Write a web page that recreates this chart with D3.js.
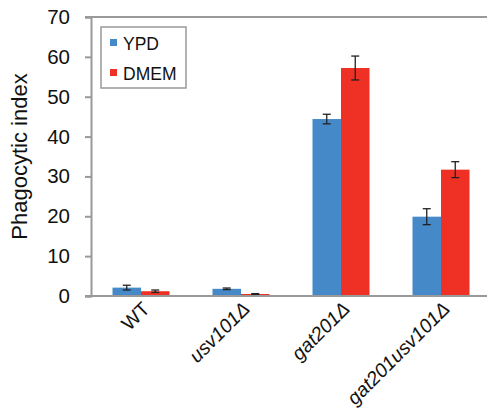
<!DOCTYPE html>
<html>
<head>
<meta charset="utf-8">
<script src="https://cdn.jsdelivr.net/npm/d3@7"></script>
<style>
  body { margin: 0; background: #fff; }
  text { font-family: "Liberation Sans", Arial, sans-serif; fill: #111; }
</style>
</head>
<body>
<div id="chart"></div>
<script>
const width = 487, height = 416;
const margin = { top: 17, right: -4, bottom: 120, left: 91 };

const strains = ["WT", "usv101Δ", "gat201Δ", "gat201usv101Δ"];
const italicStrain = [false, true, true, true];
const media = ["YPD", "DMEM"];
const ypdValues = [2.1, 1.8, 44.4, 19.9];
const ypdErrors = [0.6, 0.2, 1.2, 2.0];
const dmemValues = [1.2, 0.5, 57.2, 31.7];
const dmemErrors = [0.3, 0.1, 3.0, 2.0];
const yTicks = [0, 10, 20, 30, 40, 50, 60, 70];
const colors = ["#4689C9", "#EE3124"];

const svg = d3.select("#chart")
  .append("svg")
  .attr("width", width)
  .attr("height", height);

const x0 = d3.scaleBand()
  .domain(strains)
  .range([margin.left, width - margin.right])
  .paddingInner(0.43)
  .paddingOuter(0.215);

const x1 = d3.scaleBand()
  .domain(media)
  .range([0, x0.bandwidth()]);

const y = d3.scaleLinear()
  .domain([0, 70])
  .range([height - margin.bottom, margin.top]);

const color = d3.scaleOrdinal().domain(media).range(colors);

const rows = strains.map((s, i) => ({
  strain: s,
  bars: [
    { medium: "YPD", value: ypdValues[i], err: ypdErrors[i] },
    { medium: "DMEM", value: dmemValues[i], err: dmemErrors[i] }
  ]
}));

// y axis
const yAxis = svg.append("g")
  .attr("transform", `translate(${margin.left},0)`)
  .call(d3.axisLeft(y).tickValues(yTicks).tickSize(6).tickPadding(15));
yAxis.select(".domain").attr("stroke", "#999").attr("stroke-width", 2);
yAxis.selectAll(".tick line").attr("stroke", "#999").attr("stroke-width", 2);
yAxis.selectAll(".tick text")
  .style("font-size", "20.5px")
  .attr("fill", "#111");

// top border
svg.append("line")
  .attr("x1", margin.left - 6)
  .attr("x2", width)
  .attr("y1", y(70))
  .attr("y2", y(70))
  .attr("stroke", "#999")
  .attr("stroke-width", 2);

// bars
const groups = svg.selectAll(".group")
  .data(rows)
  .join("g")
  .attr("class", "group")
  .attr("transform", d => `translate(${x0(d.strain)},0)`);

groups.selectAll("rect")
  .data(d => d.bars)
  .join("rect")
  .attr("x", d => x1(d.medium))
  .attr("y", d => y(d.value))
  .attr("width", x1.bandwidth())
  .attr("height", d => y(0) - y(d.value))
  .attr("fill", d => color(d.medium));

// error bars
const errs = groups.selectAll(".err")
  .data(d => d.bars)
  .join("g")
  .attr("class", "err")
  .attr("transform", d => `translate(${x1(d.medium) + x1.bandwidth() / 2},0)`);

errs.append("line")
  .attr("y1", d => y(d.value + d.err))
  .attr("y2", d => y(Math.max(d.value - d.err, 0)))
  .attr("stroke", "#222")
  .attr("stroke-width", 1.3);
errs.selectAll(".cap")
  .data(d => [d.value + d.err, Math.max(d.value - d.err, 0)])
  .join("line")
  .attr("class", "cap")
  .attr("x1", -4)
  .attr("x2", 4)
  .attr("y1", d => y(d))
  .attr("y2", d => y(d))
  .attr("stroke", "#222")
  .attr("stroke-width", 1.3);

// x axis
svg.append("line")
  .attr("x1", margin.left - 6)
  .attr("x2", width)
  .attr("y1", y(0))
  .attr("y2", y(0))
  .attr("stroke", "#999")
  .attr("stroke-width", 2);

svg.selectAll(".xlabel")
  .data(strains)
  .join("text")
  .attr("class", "xlabel")
  .attr("text-anchor", "end")
  .attr("transform", d => `translate(${x0(d) + x0.bandwidth() / 2 + 10},${y(0) + 14}) rotate(-45)`)
  .style("font-size", "19.5px")
  .style("font-style", (d, i) => italicStrain[i] ? "italic" : "normal")
  .text(d => d);

// y label
svg.append("text")
  .attr("transform", `translate(27,${(y(0) + y(70)) / 2}) rotate(-90)`)
  .attr("text-anchor", "middle")
  .style("font-size", "22px")
  .text("Phagocytic index");

// legend
const legend = svg.append("g").attr("transform", "translate(101,27)");
legend.append("rect")
  .attr("width", 85)
  .attr("height", 61)
  .attr("fill", "#fff")
  .attr("stroke", "#999")
  .attr("stroke-width", 1.5);
media.forEach((m, i) => {
  legend.append("rect")
    .attr("x", 9)
    .attr("y", 12 + i * 30)
    .attr("width", 7)
    .attr("height", 7)
    .attr("fill", color(m));
  legend.append("text")
    .attr("x", 22)
    .attr("y", 23 + i * 30)
    .style("font-size", "17.5px")
    .text(m);
});
</script>
</body>
</html>
